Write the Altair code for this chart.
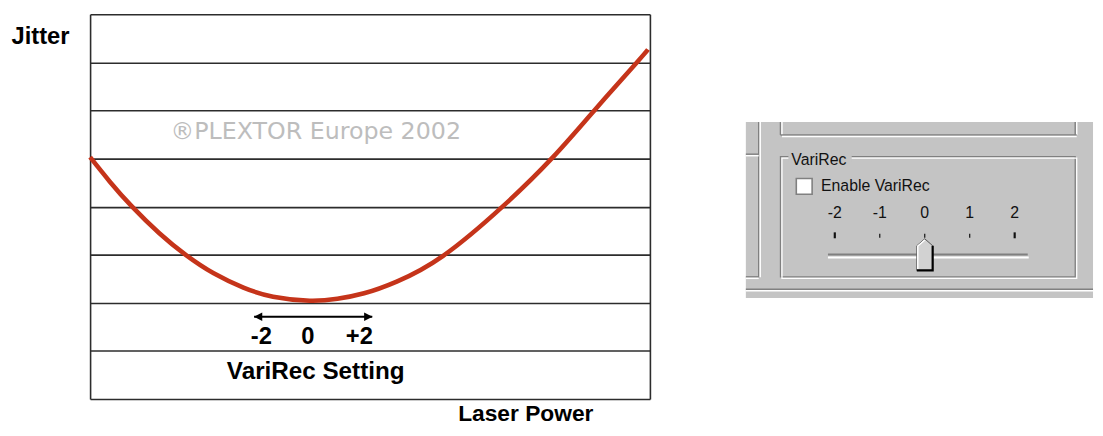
import altair as alt
import pandas as pd

# ---------------- data: left diagram ----------------
laser_power = [0.0, 0.353, 0.742, 1.237, 1.714, 2.208, 2.739, 3.269, 3.922, 4.417, 4.894,
               5.477, 6.307, 7.367, 8.251, 9.011, 9.770, 9.965]
jitter = [5.028, 4.519, 4.010, 3.446, 2.992, 2.614, 2.317, 2.127, 2.044, 2.084, 2.198,
          2.441, 2.978, 4.000, 5.008, 6.005, 7.003, 7.267]

watermark = "®PLEXTOR Europe 2002"
watermark_pos = [4.03, 5.54]

arrow_power = [2.93, 5.04]
arrow_jitter = 1.71
arrow_heads = [3.0, 4.97]
setting_labels = ["-2", "0", "+2"]
setting_power = [3.06, 3.89, 4.81]
setting_jitter = 1.28
setting_title = "VariRec Setting"
setting_title_pos = [4.03, 0.57]

grid_levels = list(range(9))

# ---------------- data: VariRec dialog ----------------
slider_values = [-2, -1, 0, 1, 2]
slider_labels = ["-2", "-1", "0", "1", "2"]
slider_current = [0]

FONT = "Liberation Sans"
INK = "#2c2c2c"
RED = "#c5341a"

curve_df = pd.DataFrame({"power": laser_power, "jitter": jitter})

x_scale = alt.Scale(domain=[0, 10], nice=False, zero=False)
y_scale = alt.Scale(domain=[0, 8], nice=False, zero=False)

x_axis = alt.Axis(values=[0, 10], grid=True, gridColor=INK, gridWidth=1.6, ticks=False,
                  labels=False, domain=False, title="Laser Power", titleAlign="center",
                  titleBaseline="alphabetic", titleX=440, titleY=22, titleFont=FONT,
                  titleFontSize=23, titleFontWeight="bold", titleColor="black")
y_axis = alt.Axis(values=grid_levels, grid=True, gridColor=INK, gridWidth=1.6, ticks=False,
                  labels=False, domain=False, title="Jitter", titleAngle=0, titleAlign="left",
                  titleBaseline="middle", titleX=-80, titleY=23, titleFont=FONT,
                  titleFontSize=24, titleFontWeight="bold", titleColor="black")

curve = alt.Chart(curve_df).mark_line(color=RED, strokeWidth=4.6, interpolate="natural").encode(
    x=alt.X("power:Q", scale=x_scale, axis=x_axis),
    y=alt.Y("jitter:Q", scale=y_scale, axis=y_axis),
)

wm = alt.Chart(pd.DataFrame({"power": [watermark_pos[0]], "jitter": [watermark_pos[1]], "t": [watermark]})).mark_text(
    font="DejaVu Sans", fontSize=24, color="#bdbdbd", align="center", baseline="middle"
).encode(x=alt.X("power:Q", scale=x_scale), y=alt.Y("jitter:Q", scale=y_scale), text="t:N")

arrow_line = alt.Chart(pd.DataFrame({"power": [arrow_power[0]], "p2": [arrow_power[1]], "jitter": [arrow_jitter]})).mark_rule(
    color="black", strokeWidth=2
).encode(x=alt.X("power:Q", scale=x_scale), x2="p2:Q", y=alt.Y("jitter:Q", scale=y_scale))

head_l = alt.Chart(pd.DataFrame({"power": [arrow_heads[0]], "jitter": [arrow_jitter]})).mark_point(
    shape="M-1,0L1,-1L1,1Z", size=72, filled=True, color="black", opacity=1
).encode(x=alt.X("power:Q", scale=x_scale), y=alt.Y("jitter:Q", scale=y_scale))
head_r = alt.Chart(pd.DataFrame({"power": [arrow_heads[1]], "jitter": [arrow_jitter]})).mark_point(
    shape="M1,0L-1,-1L-1,1Z", size=72, filled=True, color="black", opacity=1
).encode(x=alt.X("power:Q", scale=x_scale), y=alt.Y("jitter:Q", scale=y_scale))

set_lbl = alt.Chart(pd.DataFrame({"power": setting_power, "jitter": [setting_jitter] * 3, "t": setting_labels})).mark_text(
    font=FONT, fontSize=24, fontWeight="bold", color="black", align="center", baseline="middle"
).encode(x=alt.X("power:Q", scale=x_scale), y=alt.Y("jitter:Q", scale=y_scale), text="t:N")

set_title = alt.Chart(pd.DataFrame({"power": [setting_title_pos[0]], "jitter": [setting_title_pos[1]], "t": [setting_title]})).mark_text(
    font=FONT, fontSize=24.5, fontWeight="bold", color="black", align="center", baseline="middle"
).encode(x=alt.X("power:Q", scale=x_scale), y=alt.Y("jitter:Q", scale=y_scale), text="t:N")

left = alt.layer(curve, wm, arrow_line, head_l, head_r, set_lbl, set_title).properties(width=566, height=389)

# ---------------- right: VariRec dialog panel ----------------
one = pd.DataFrame({"k": [0]})
GRAY = "#c4c4c4"
DARK = "#808080"
WHITE = "#ffffff"
TOP = 11  # page y of the panel view's top edge


def hline(x, x2, y, color, w=1.5):
    return alt.Chart(one).mark_rule(color=color, strokeWidth=w).encode(
        x=alt.value(x), x2=alt.value(x2), y=alt.value(y - TOP))


def vline(x, y, y2, color, w=1.5):
    return alt.Chart(one).mark_rule(color=color, strokeWidth=w).encode(
        x=alt.value(x), y=alt.value(y - TOP), y2=alt.value(y2 - TOP))


def box(x, x2, y, y2, fill, stroke=None, w=1):
    kw = dict(fill=fill)
    if stroke is not None:
        kw.update(stroke=stroke, strokeWidth=w)
    return alt.Chart(one).mark_rect(**kw).encode(
        x=alt.value(x), x2=alt.value(x2), y=alt.value(y - TOP), y2=alt.value(y2 - TOP))


def label(x, y, t, align="left"):
    return alt.Chart(pd.DataFrame({"t": [t]})).mark_text(
        font=FONT, fontSize=16, color="#111111", align=align, baseline="middle"
    ).encode(x=alt.value(x), y=alt.value(y - TOP), text="t:N")


s_scale = alt.Scale(domain=[-3.978, 3.742], nice=False, zero=False)
W = 351

layers = [
    box(0, W, 120, 298, GRAY),
    # left neighbour panel
    vline(13, 120, 277, DARK), vline(14.5, 120, 277, WHITE),
    hline(0, 13, 152.5, DARK), hline(0, 13, 154, WHITE),
    hline(0, 13, 276.5, DARK), hline(0, 13, 278, WHITE),
    # upper group box (partial)
    vline(35, 120, 133, DARK), vline(36.5, 120, 133, WHITE),
    vline(333, 120, 133, DARK), vline(334.5, 120, 133, WHITE),
    hline(35, 334.5, 133, DARK), hline(36.5, 334.5, 134.5, WHITE),
    # VariRec group box
    box(35, 333, 155, 276.5, "transparent", DARK, 1.3),
    box(36.5, 334.5, 156.5, 278, "transparent", WHITE, 1.3),
    box(43, 107, 150, 161, GRAY),
    label(46, 158, "VariRec"),
    # checkbox
    box(51, 67, 177, 193, WHITE, DARK, 1.6),
    label(76, 185, "Enable VariRec"),
    # bottom separator
    hline(0, W, 289, DARK), hline(0, W, 290.5, WHITE),
    # slider track
    hline(83, 285, 254, DARK, 2), hline(83, 286, 257, WHITE, 2),
]

slider_df = pd.DataFrame({"v": slider_values, "t": slider_labels})
tick_lbls = alt.Chart(slider_df).mark_text(
    font=FONT, fontSize=16, color="#111111", align="center", baseline="middle"
).encode(x=alt.X("v:Q", scale=s_scale, axis=None), y=alt.value(212 - TOP), text="t:N")
ticks_mid = alt.Chart(slider_df).transform_filter("abs(datum.v) < 2").mark_rule(
    color="#111111", strokeWidth=1.2
).encode(x=alt.X("v:Q", scale=s_scale, axis=None), y=alt.value(233 - TOP), y2=alt.value(237 - TOP))
ticks_end = alt.Chart(slider_df).transform_filter("abs(datum.v) == 2").mark_rule(
    color="#111111", strokeWidth=2.2
).encode(x=alt.X("v:Q", scale=s_scale, axis=None), y=alt.value(231.5 - TOP), y2=alt.value(237.5 - TOP))

thumb_df = pd.DataFrame({"v": slider_current})
thumb = alt.Chart(thumb_df).mark_point(
    shape="M-0.5,1L-0.5,-0.56L0,-1L0.5,-0.56L0.5,1Z", size=1024, filled=True,
    fill="#d2d2d2", stroke="#555555", strokeWidth=1, opacity=1
).encode(x=alt.X("v:Q", scale=s_scale, axis=None), y=alt.value(254 - TOP))
thumb_hi = alt.Chart(thumb_df).mark_point(
    shape="M-0.44,0.94L-0.44,-0.54L0,-0.92", size=1024, filled=False,
    stroke=WHITE, strokeWidth=1.5, opacity=1
).encode(x=alt.X("v:Q", scale=s_scale, axis=None), y=alt.value(254 - TOP))
thumb_sh = alt.Chart(thumb_df).mark_point(
    shape="M0.5,-0.56L0.5,1L-0.5,1", size=1024, filled=False,
    stroke="#000000", strokeWidth=2.2, opacity=1
).encode(x=alt.X("v:Q", scale=s_scale, axis=None), y=alt.value(254 - TOP))

right = alt.layer(*layers, tick_lbls, ticks_mid, ticks_end, thumb, thumb_hi, thumb_sh).properties(
    width=W, height=292 - TOP)

chart = alt.hconcat(left, right, spacing=87).properties(
    padding={"left": 2, "top": 3, "right": 0, "bottom": 0},
    background="white",
).configure_view(stroke="transparent")

chart.save("out.html", embed_options={"renderer": "svg", "actions": False})
